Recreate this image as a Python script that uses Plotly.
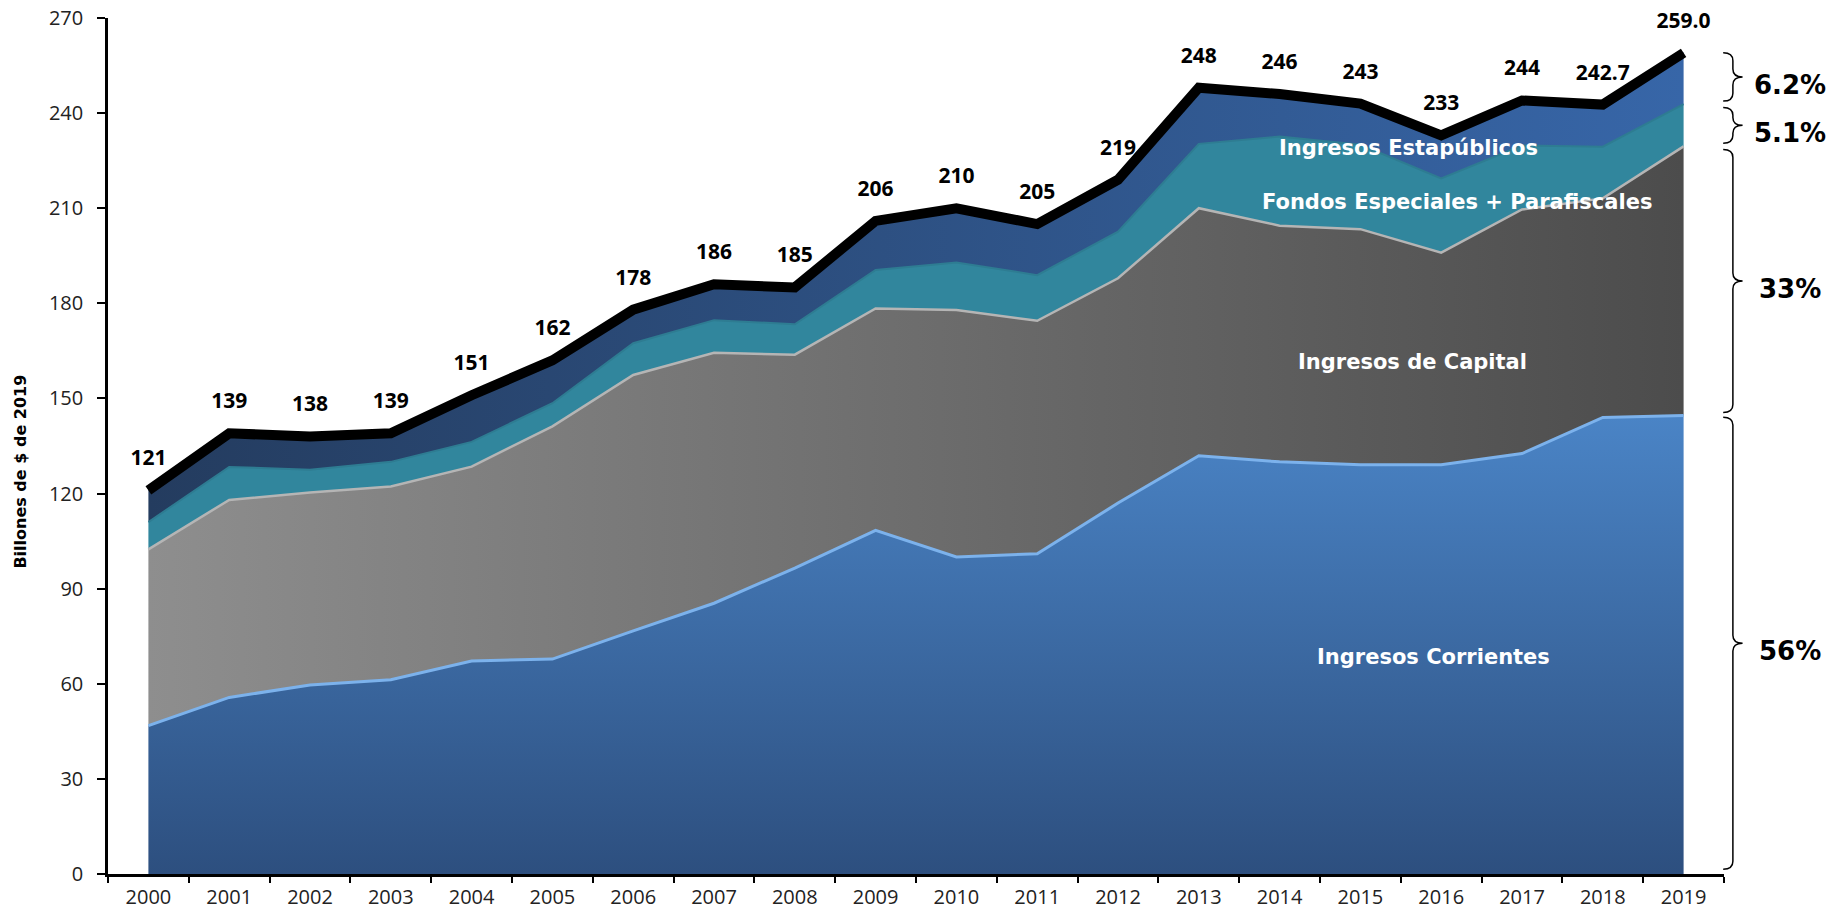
import plotly.graph_objects as go

years = [str(y) for y in range(2000, 2020)]

# billones de $ de 2019
corrientes = [46.8, 55.7, 59.6, 61.3, 67.2, 67.8, 76.7, 85.4, 96.5, 108.4,
              100.0, 101.0, 117.0, 131.9, 130.0, 129.1, 129.1, 132.6, 144.0, 144.6]
capital = [55.6, 62.3, 60.7, 60.9, 61.3, 73.4, 80.7, 79.0, 67.3, 70.0,
           77.9, 73.5, 70.9, 78.1, 74.5, 74.3, 66.9, 77.0, 69.1, 84.9]
fondos = [8.6, 10.4, 7.2, 7.8, 7.8, 7.3, 10.0, 10.3, 9.6, 12.1,
          15.0, 14.4, 14.7, 20.3, 28.1, 26.6, 23.4, 20.2, 16.3, 13.3]
estapublicos = [10.0, 10.6, 10.5, 9.0, 14.7, 13.5, 10.6, 11.3, 11.6, 15.5,
                17.1, 16.1, 16.4, 17.7, 13.4, 13.0, 13.6, 14.2, 13.3, 16.2]
totales = [121, 139, 138, 139, 151, 162, 178, 186, 185, 206,
           210, 205, 219, 248, 246, 243, 233, 244, 242.7, 259.0]
total_labels = ["121", "139", "138", "139", "151", "162", "178", "186", "185", "206",
                "210", "205", "219", "248", "246", "243", "233", "244", "242.7", "259.0"]
shares = ["56%", "33%", "5.1%", "6.2%"]

TICK = "Open Sans, Noto Sans, sans-serif"
WIDE = "DejaVu Sans, sans-serif"

fig = go.Figure()

fig.add_trace(go.Scatter(
    x=years, y=corrientes, stackgroup="s", mode="lines",
    line=dict(color="#7CB2EC", width=3),
    fillgradient=dict(type="vertical",
                      colorscale=[[0, "#2D4F7F"], [1, "#4A84C6"]]),
    hoverinfo="skip",
))
fig.add_trace(go.Scatter(
    x=years, y=capital, stackgroup="s", mode="lines",
    line=dict(color="#B5B5B5", width=2.5),
    fillgradient=dict(type="horizontal",
                      colorscale=[[0, "#8E8E8E"], [1, "#4C4C4C"]]),
    hoverinfo="skip",
))
fig.add_trace(go.Scatter(
    x=years, y=fondos, stackgroup="s", mode="lines",
    line=dict(color="#2E7C92", width=2),
    fillcolor="#31869D",
    hoverinfo="skip",
))
fig.add_trace(go.Scatter(
    x=years, y=estapublicos, stackgroup="s", mode="lines",
    line=dict(color="#2A4E7E", width=1),
    fillgradient=dict(type="horizontal",
                      colorscale=[[0, "#243C5F"], [1, "#3766A8"]]),
    hoverinfo="skip",
))

fig.add_trace(go.Scatter(
    x=years, y=totales, mode="lines+markers+text", cliponaxis=False,
    line=dict(color="black", width=10),
    marker=dict(size=30, color="rgba(0,0,0,0)"),
    text=total_labels, textposition="top center",
    textfont=dict(family=TICK, size=21, color="black", weight="bold"),
    hoverinfo="skip",
))

# etiquetas de las áreas
area_labels = [
    ("Ingresos Corrientes", 15.9, 68.5),
    ("Ingresos de Capital", 15.65, 161.5),
    ("Fondos Especiales + Parafiscales", 16.2, 212),
    ("Ingresos Estapúblicos", 15.6, 229),
]
for txt, xi, yi in area_labels:
    fig.add_annotation(x=xi, y=yi, xref="x", yref="y", text=txt, showarrow=False,
                       font=dict(family=WIDE, size=21, color="white", weight="bold"))

# llaves con participación 2019
c = corrientes[-1]
k = c + capital[-1]
f = k + fondos[-1]
t = totales[-1]
spans = [(1.5, c - 0.5), (c + 1.0, k - 1.0), (k + 1.0, f - 1.0), (f + 1.0, t)]
x0, xm, x1 = 0.9995, 1.0055, 1.0115
for (ylo, yhi), lab in zip(spans, shares):
    ymid = (ylo + yhi) / 2
    e = 2.5
    path = (f"M {x0},{yhi} Q {xm},{yhi} {xm},{yhi - e} L {xm},{ymid + e} "
            f"Q {xm},{ymid} {x1},{ymid} Q {xm},{ymid} {xm},{ymid - e} "
            f"L {xm},{ylo + e} Q {xm},{ylo} {x0},{ylo}")
    fig.add_shape(type="path", path=path, xref="paper", yref="y",
                  line=dict(color="black", width=1.5))
    fig.add_annotation(x=1.041, y=ymid, xref="paper", yref="y", text=lab,
                       showarrow=False, xanchor="center", yshift=-8,
                       font=dict(family=WIDE, size=26, color="black", weight="bold"))

fig.add_annotation(x=-0.061, y=0.47, xref="paper", yref="paper",
                   text="Billones de $ de 2019", textangle=-90, showarrow=False,
                   font=dict(family=WIDE, size=16, color="black", weight="bold"))

fig.update_layout(
    width=1829, height=912,
    margin=dict(l=108, r=105, t=18, b=38),
    paper_bgcolor="white", plot_bgcolor="white",
    showlegend=False,
    font=dict(family=TICK, size=20, color="black"),
)
fig.update_xaxes(type="category", range=[-0.5, 19.5], automargin=False,
                 showline=True, linecolor="black", linewidth=2.5,
                 ticks="outside", tickson="boundaries", ticklen=6,
                 tickwidth=2, tickcolor="black", showgrid=False,
                 ticklabelstandoff=3,
                 tickfont=dict(family=TICK, size=20, color="#222"))
fig.update_yaxes(range=[0, 270], dtick=30, automargin=False,
                 showline=True, linecolor="black", linewidth=2.5,
                 ticks="outside", ticklen=8, tickwidth=2, tickcolor="black",
                 showgrid=False, zeroline=False, ticklabelstandoff=10,
                 tickfont=dict(family=TICK, size=20, color="#222"))

# sin margen del body para que el gráfico ocupe la ventana completa
fig.write_html("out.html", config={"displayModeBar": False},
               post_script="document.body.style.margin='0';")
